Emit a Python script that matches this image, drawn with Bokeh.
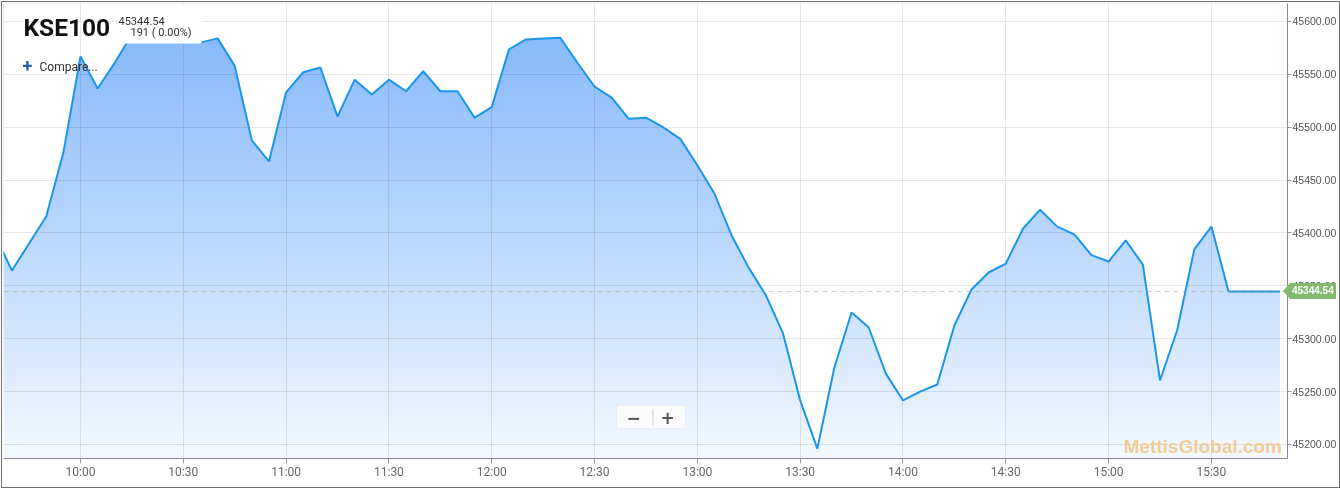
import numpy as np
from bokeh.plotting import figure
from bokeh.models import (FixedTicker, PrintfTickFormatter, Span, Label,
                          BoxAnnotation, Range1d, Div)
from bokeh.embed import file_html
from bokeh.resources import INLINE

# ---------------- data ----------------
index_name = "KSE100"
last_price = 45344.54
change_text = "191 ( 0.00%)"
compare_text = "Compare..."
watermark = "MettisGlobal.com"

times = ["09:35", "09:40", "09:45", "09:50", "09:55",
         "10:00", "10:05", "10:10", "10:15", "10:20", "10:25", "10:30", "10:35", "10:40", "10:45", "10:50", "10:55",
         "11:00", "11:05", "11:10", "11:15", "11:20", "11:25", "11:30", "11:35", "11:40", "11:45", "11:50", "11:55",
         "12:00", "12:05", "12:10", "12:15", "12:20", "12:25", "12:30", "12:35", "12:40", "12:45", "12:50", "12:55",
         "13:00", "13:05", "13:10", "13:15", "13:20", "13:25", "13:30", "13:35", "13:40", "13:45", "13:50", "13:55",
         "14:00", "14:05", "14:10", "14:15", "14:20", "14:25", "14:30", "14:35", "14:40", "14:45", "14:50", "14:55",
         "15:00", "15:05", "15:10", "15:15", "15:20", "15:25", "15:30", "15:35", "15:40", "15:45", "15:50"]

kse100 = [45398.0, 45364.5, 45390.0, 45415.6, 45476.0,
          45567.0, 45536.6, 45561.0, 45588.0, 45598.0, 45603.0, 45596.0, 45580.0, 45584.0, 45558.0, 45487.5, 45467.6,
          45533.0, 45552.0, 45556.5, 45510.0, 45545.0, 45531.0, 45545.0, 45534.0, 45553.0, 45534.0, 45534.0, 45509.0,
          45519.0, 45573.5, 45583.0, 45584.0, 45584.5, 45561.0, 45538.5, 45528.0, 45508.0, 45509.0, 45500.0, 45489.0,
          45464.0, 45437.0, 45397.6, 45367.0, 45341.0, 45305.0, 45241.6, 45196.0, 45273.0, 45324.8, 45310.6, 45267.0,
          45241.6, 45250.0, 45256.7, 45312.5, 45346.6, 45362.6, 45371.0, 45404.0, 45422.0, 45406.0, 45398.6, 45379.0,
          45373.0, 45393.0, 45370.0, 45260.5, 45308.0, 45384.4, 45406.0, 45344.54, 45344.54, 45344.54, 45344.54]

x_tick_labels = ["10:00", "10:30", "11:00", "11:30", "12:00", "12:30",
                 "13:00", "13:30", "14:00", "14:30", "15:00", "15:30"]
y_ticks = [45200, 45250, 45300, 45350, 45400, 45450, 45500, 45550, 45600]


def to_min(s):
    h, m = s.split(":")
    return int(h) * 60 + int(m)


minutes = [to_min(t) for t in times]
x_ticks = [to_min(t) for t in x_tick_labels]

# ---------------- geometry ----------------
FRAME_W, FRAME_H = 1284, 455
X_START, X_END = 577.53, 952.2
Y_TOP, Y_BOT = 45617.0, 45186.7
PXM = FRAME_W / (X_END - X_START)
PXY = FRAME_H / (Y_TOP - Y_BOT)
FX, FY = 3, 3  # page position of the frame's top-left


def px2x(px):
    return X_START + (px - FX) / PXM


def px2y(py):
    return Y_TOP - (py - FY) / PXY


def y2px(v):
    return FY + (Y_TOP - v) * PXY


p = figure(frame_width=FRAME_W, frame_height=FRAME_H,
           x_range=Range1d(X_START, X_END), y_range=Range1d(Y_BOT, Y_TOP),
           y_axis_location="right", output_backend="svg", toolbar_location=None,
           min_border_left=1, min_border_right=51, min_border_top=1, min_border_bottom=29,
           background_fill_color="white", border_fill_color="white")
p.outline_line_color = None
p.styles = {"position": "fixed", "left": "1px", "top": "1px", "border": "1px solid #6e6e6e"}

# gradient fill: image under the curve, then white mask above the curve
n = FRAME_H
top_c = np.array([128, 181, 251], dtype=float)
bot_c = np.array([243, 249, 255], dtype=float)
img = np.empty((n, 1), dtype=np.uint32)
view = img.view(dtype=np.uint8).reshape((n, 1, 4))
for r in range(n):
    f = r / (n - 1)  # 0 bottom, 1 top
    c = bot_c + (top_c - bot_c) * f
    view[r, 0, 0] = int(c[0])
    view[r, 0, 1] = int(c[1])
    view[r, 0, 2] = int(c[2])
    view[r, 0, 3] = 255
p.image_rgba(image=[img], x=minutes[0], y=Y_BOT, dw=minutes[-1] - minutes[0], dh=Y_TOP - Y_BOT,
             level="image")
p.varea(x=minutes, y1=kse100, y2=[Y_TOP + 100] * len(kse100), fill_color="white", level="image")

# grid
p.xgrid.ticker = FixedTicker(ticks=x_ticks)
p.ygrid.ticker = FixedTicker(ticks=y_ticks)
for g in (p.xgrid, p.ygrid):
    g.grid_line_color = "#000000"
    g.grid_line_alpha = 0.09

# last price dashed line
p.add_layout(Span(location=last_price, dimension="width", line_color="#9aa17c",
                  line_alpha=0.5, line_dash="5 4", line_width=1))

# series line
p.line(minutes, kse100, line_color="#1a96ea", line_width=2)

# axes
xa = p.xaxis[0]
xa.ticker = FixedTicker(ticks=x_ticks)
xa.major_label_overrides = {t: l for t, l in zip(x_ticks, x_tick_labels)}
xa.axis_line_color = "#8a8a8a"
xa.major_tick_line_color = "#9a9a9a"
xa.major_tick_out = 5
xa.major_tick_in = 0
xa.minor_tick_line_color = None
xa.major_label_text_font = "Roboto"
xa.major_label_text_font_size = "12px"
xa.major_label_text_color = "#666666"
xa.major_label_standoff = 1

ya = p.yaxis[0]
ya.ticker = FixedTicker(ticks=y_ticks)
ya.formatter = PrintfTickFormatter(format="%.2f")
ya.axis_line_color = "#8a8a8a"
ya.major_tick_line_color = "#9a9a9a"
ya.major_tick_out = 4
ya.major_tick_in = 0
ya.minor_tick_line_color = None
ya.major_label_text_font = "Liberation Sans"
ya.major_label_text_font_size = "10.5px"
ya.major_label_text_color = "#555555"
ya.major_label_standoff = 1

# header box
p.add_layout(BoxAnnotation(left=px2x(116), right=px2x(201), top=px2y(5), bottom=px2y(43),
                           fill_color="white", fill_alpha=1, line_alpha=0))
p.add_layout(Label(x=px2x(23), y=px2y(27), text=index_name, text_baseline="middle",
                   text_font="Roboto", text_font_size="24.5px", text_font_style="bold", text_color="#111111"))
p.add_layout(Label(x=px2x(118), y=px2y(20), text=f"{last_price:.2f}", text_baseline="middle",
                   text_font="Roboto", text_font_size="11px", text_color="#333333"))
p.add_layout(Label(x=px2x(130), y=px2y(32), text=change_text, text_baseline="middle",
                   text_font="Roboto", text_font_size="11px", text_color="#333333"))
p.add_layout(Label(x=px2x(22), y=px2y(65), text="+", text_baseline="middle",
                   text_font="Roboto", text_font_size="18px", text_font_style="bold", text_color="#2a5fae"))
p.add_layout(Label(x=px2x(39), y=px2y(66), text=compare_text, text_baseline="middle",
                   text_font="Roboto", text_font_size="12px", text_color="#333333"))

# zoom buttons
p.add_layout(BoxAnnotation(left=px2x(616), right=px2x(685), top=px2y(405), bottom=px2y(428),
                           fill_color="#fafafa", fill_alpha=1, line_color="#dcdcdc", line_width=1))
p.add_layout(BoxAnnotation(left=px2x(652), right=px2x(653), top=px2y(409), bottom=px2y(425),
                           fill_color="#cfcfcf", fill_alpha=1, line_alpha=0))
p.add_layout(Label(x=px2x(633), y=px2y(417), text="\u2212", text_align="center", text_baseline="middle",
                   text_font="DejaVu Sans", text_font_size="17px", text_font_style="bold", text_color="#555555"))
p.add_layout(Label(x=px2x(667), y=px2y(417), text="+", text_align="center", text_baseline="middle",
                   text_font="DejaVu Sans", text_font_size="17px", text_font_style="bold", text_color="#555555"))

# watermark
p.add_layout(Label(x=px2x(1123), y=px2y(446), text=watermark, text_baseline="middle",
                   text_font="Liberation Sans", text_font_size="19px", text_font_style="bold",
                   text_color="#f5c68a", text_alpha=0.9))

# green last-price tag, drawn as an HTML overlay next to the right axis
tag_top = int(round(y2px(last_price) - 8))
tag = Div(text=f"{last_price:.2f}", width=53, height=16, margin=0,
          styles={"position": "fixed", "left": "1283px", "top": f"{tag_top}px",
                  "background-color": "#82bb6d", "color": "white", "overflow": "hidden",
                  "font-family": "Liberation Sans", "font-size": "10px", "font-weight": "bold",
                  "line-height": "16px", "padding-left": "9px", "box-sizing": "border-box",
                  "white-space": "nowrap",
                  "clip-path": "polygon(0 50%, 7px 0, 100% 0, 100% 100%, 7px 100%)"})

open("out.html", "w").write(file_html([p, tag], INLINE))
